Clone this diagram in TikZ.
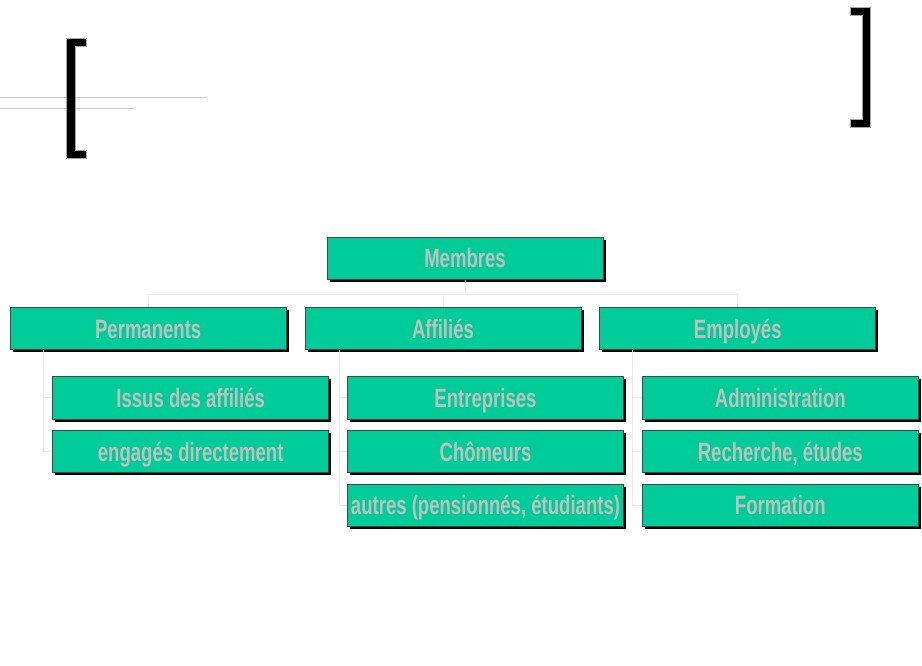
\documentclass[tikz,border=0pt]{standalone}
\usepackage{fontspec}
\setmainfont{Liberation Sans}[FakeStretch=0.7]
\usepackage{xcolor}
\usepackage{tikz}
\usetikzlibrary{positioning,shadows}
\definecolor{boxgreen}{RGB}{0,204,153}
\definecolor{boxtext}{RGB}{192,192,192}
\definecolor{boxline}{RGB}{70,70,70}
\definecolor{linkgray}{RGB}{236,236,236}
\definecolor{titlegray}{RGB}{204,204,204}

\begin{document}
\begin{tikzpicture}[x=1pt, y=-1pt, font=\bfseries\fontsize{26.5}{30}\selectfont,
	box/.style={draw=boxline, line width=0.8pt, fill=boxgreen, text=boxtext, minimum width=276pt, minimum height=42.5pt, text height=19pt, text depth=0pt, inner sep=0pt, drop shadow={shadow xshift=2.5pt, shadow yshift=-2.5pt, fill=black, opacity=1}},
	link/.style={draw=linkgray, line width=0.8pt},
	bracket/.style={fill=black, draw=gray!70, line width=0.5pt}]
		\useasboundingbox (0,0) rectangle (922,666);
		% title placeholder
		\draw[titlegray, line width=0.8pt] (0,97.3) -- (206.7,97.3);
		\draw[titlegray, line width=0.8pt] (0,108.3) -- (133.3,108.3);
		\path[bracket] (66.7,38.3) -- (86.7,38.3) -- (86.7,46.5) -- (75,46.5) -- (75,150.2) -- (86.7,150.2) -- (86.7,158.3) -- (66.7,158.3) -- cycle;
		\path[bracket] (850,7.3) -- (870.7,7.3) -- (870.7,127.7) -- (850,127.7) -- (850,119.5) -- (862.5,119.5) -- (862.5,15.5) -- (850,15.5) -- cycle;
		% chart
		\node[box] (membres) at (465,258.5) {Membres};
		\node[box] (affilies) at (443,328.5) {Affiliés};
		\node[box, left=18pt of affilies] (permanents) {Permanents};
		\node[box, right=18pt of affilies] (employes) {Employés};
		\node[box, below=26pt of permanents, xshift=42.5pt] (issus) {Issus des affiliés};
		\node[box, below=10.5pt of issus] (engages) {engagés directement};
		\node[box, below=26pt of affilies, xshift=42.5pt] (entreprises) {Entreprises};
		\node[box, below=10.5pt of entreprises] (chomeurs) {Chômeurs};
		\node[box, below=10.5pt of chomeurs] (autres) {autres (pensionnés, étudiants)};
		\node[box, below=26pt of employes, xshift=42.5pt] (administration) {Administration};
		\node[box, below=10.5pt of administration] (recherche) {Recherche, études};
		\node[box, below=10.5pt of recherche] (formation) {Formation};
		\draw[link] (membres.south) -- ++(0,14) -| (permanents.north);
		\draw[link] (membres.south) -- ++(0,14) -| (affilies.north);
		\draw[link] (membres.south) -- ++(0,14) -| (employes.north);
		\draw[link] ([xshift=34pt]permanents.south west) |- (issus.west);
		\draw[link] ([xshift=34pt]permanents.south west) |- (engages.west);
		\draw[link] ([xshift=35pt]affilies.south west) |- (entreprises.west);
		\draw[link] ([xshift=35pt]affilies.south west) |- (chomeurs.west);
		\draw[link] ([xshift=35pt]affilies.south west) |- (autres.west);
		\draw[link] ([xshift=33pt]employes.south west) |- (administration.west);
		\draw[link] ([xshift=33pt]employes.south west) |- (recherche.west);
		\draw[link] ([xshift=33pt]employes.south west) |- (formation.west);
	\end{tikzpicture}
\end{document}
